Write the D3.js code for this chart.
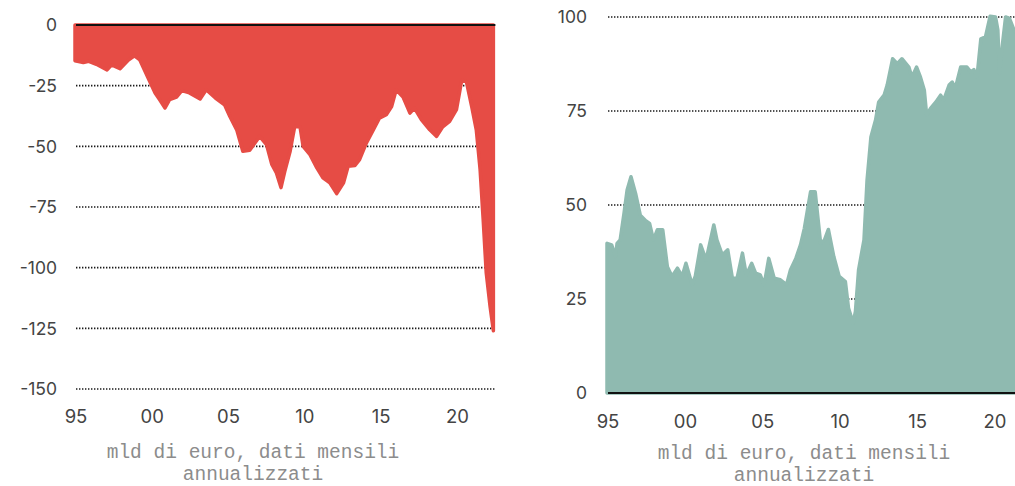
<!DOCTYPE html>
<html>
<head>
<meta charset="utf-8">
<script src="https://cdn.jsdelivr.net/npm/d3@7"></script>
<style>
  body { margin: 0; background: #fff; }
  svg { display: block; }
</style>
</head>
<body>
<svg id="chart"></svg>
<script>
// x axis ticks, shared by both panels
const xTicks = [1995, 2000, 2005, 2010, 2015, 2020];
const xTickLabels = ['95', '00', '05', '10', '15', '20'];
const leftYTicks = [0, -25, -50, -75, -100, -125, -150];
const rightYTicks = [0, 25, 50, 75, 100];
const unitLabel = ['mld di euro, dati mensili', 'annualizzati'];

// left panel (red)
const leftDates = [1995.0, 1995.55, 1995.9, 1996.4, 1997.1, 1997.4, 1997.95, 1998.5, 1998.9, 1999.25,
  1999.8, 2000.25, 2000.55, 2000.9, 2001.2, 2001.65, 2002.0, 2002.5, 2003.2, 2003.6,
  2004.2, 2004.8, 2005.15, 2005.6, 2006.0, 2006.45, 2007.1, 2007.55, 2007.9, 2008.2,
  2008.5, 2008.75, 2009.1, 2009.4, 2009.75, 2009.95, 2010.4, 2010.85, 2011.25, 2011.7,
  2012.15, 2012.6, 2012.9, 2013.35, 2013.65, 2014.1, 2014.55, 2014.95, 2015.4, 2015.75,
  2016.05, 2016.5, 2016.95, 2017.25, 2017.7, 2018.25, 2018.7, 2019.1, 2019.55, 2020.0,
  2020.35, 2020.65, 2021.0, 2021.3, 2021.55, 2021.75, 2021.95, 2022.2, 2022.42];
const leftValues = [-14.7, -15.5, -15, -16.2, -18.5, -16.4, -18, -14.4, -12.7, -14.4,
  -21.9, -28, -30.8, -34.2, -30.8, -29.7, -27, -28, -30.5, -26.7,
  -30.1, -32.9, -37.7, -43.2, -52, -51.6, -45.9, -49.3, -57.5, -61,
  -67, -60.3, -52, -41.8, -42, -50, -53.4, -58.9, -63, -65,
  -69.5, -65, -58.2, -57.9, -55.5, -48.6, -43.2, -38.4, -37, -33.6,
  -26.7, -29.7, -36.3, -34.2, -39, -43.2, -45.9, -42, -39.7, -34.9,
  -22.6, -23.3, -33.6, -43.2, -59.6, -80, -102, -115.8, -126];

// right panel (teal)
const rightDates = [1995.0, 1995.3, 1995.55, 1995.65, 1995.85, 1996.1, 1996.3, 1996.55, 1996.85, 1997.15,
  1997.5, 1997.75, 1998.0, 1998.25, 1998.6, 1998.9, 1999.2, 1999.55, 1999.85, 2000.1,
  2000.5, 2000.7, 2001.05, 2001.4, 2001.9, 2002.1, 2002.45, 2002.8, 2003.1, 2003.4,
  2003.75, 2004.0, 2004.35, 2004.6, 2004.9, 2005.15, 2005.45, 2005.8, 2006.2, 2006.6,
  2006.85, 2007.2, 2007.5, 2007.75, 2008.15, 2008.45, 2008.8, 2009.05, 2009.3, 2009.65,
  2010.0, 2010.4, 2010.6, 2010.9, 2011.05, 2011.25, 2011.6, 2011.8, 2012.05, 2012.35,
  2012.55, 2012.9, 2013.1, 2013.45, 2013.75, 2014.05, 2014.5, 2014.7, 2015.0, 2015.25,
  2015.5, 2015.65, 2015.9, 2016.25, 2016.55, 2016.75, 2017.1, 2017.3, 2017.5, 2017.85,
  2018.25, 2018.5, 2018.7, 2018.9, 2019.15, 2019.45, 2019.75, 2020.1, 2020.25, 2020.35,
  2020.55, 2020.75, 2021.0, 2021.3, 2021.6];
const rightValues = [39.8, 39.4, 36.3, 39.8, 40.7, 47.8, 54, 57.5, 53, 47.3,
  45.8, 45.1, 40.7, 43.4, 43.4, 33.6, 31, 33.2, 31, 34.5,
  28.8, 31, 39.4, 35.4, 44.7, 40.7, 36.7, 38.1, 30.5, 30.5,
  37.2, 31.4, 34.5, 31.9, 31.4, 28.8, 35.8, 30.5, 30.1, 28.8,
  32.7, 35.8, 39.4, 43.8, 53.5, 53.5, 39.8, 40.7, 43.5, 36.3,
  31, 29.6, 22.6, 18.6, 21.7, 32.7, 40.7, 56.6, 68.1, 72.6,
  77.4, 79.2, 81.9, 88.9, 87.6, 88.9, 86.7, 84, 86.7, 84,
  80.5, 73.9, 75.7, 77.4, 79.2, 77.9, 81.9, 82.7, 81, 86.7,
  86.7, 85.4, 86, 84, 94.2, 94.7, 100.2, 100, 96.5, 85,
  92.9, 100, 99.6, 96.5, 95];

const svg = d3.select('#chart').attr('width', 1015).attr('height', 486);

drawPanel({
  dates: leftDates, values: leftValues, yTicks: leftYTicks,
  xRange: [75, 494.6], yDomain: [-150, 0], yRange: [389, 25],
  color: '#e64c45', yLabelX: 57, xLabelY: 423, noteX: 253, noteY: 458
});

drawPanel({
  dates: rightDates, values: rightValues, yTicks: rightYTicks,
  xRange: [607, 1032.7], yDomain: [0, 100], yRange: [393, 17],
  color: '#8fbab0', yLabelX: 587, xLabelY: 428, noteX: 804, noteY: 459
});

function drawPanel(p) {
  const g = svg.append('g');
  const data = p.dates.map((d, i) => ({ date: d, value: p.values[i] }));

  const x = d3.scaleLinear().domain([1995, 2022.5]).range(p.xRange);
  const y = d3.scaleLinear().domain(p.yDomain).range(p.yRange);

  // dotted gridlines
  g.selectAll('line.grid')
    .data(p.yTicks.filter(t => t !== 0))
    .enter()
    .append('line')
    .attr('class', 'grid')
    .attr('x1', p.xRange[0] + 1)
    .attr('x2', p.xRange[1])
    .attr('y1', d => y(d))
    .attr('y2', d => y(d))
    .style('stroke', '#1a1a1a')
    .style('stroke-width', 1.6)
    .style('stroke-dasharray', '1.4,1.6');

  const area = d3.area()
    .x(d => x(d.date))
    .y0(y(0))
    .y1(d => y(d.value));

  g.append('path')
    .datum(data)
    .attr('d', area)
    .style('fill', p.color)
    .style('stroke', p.color)
    .style('stroke-width', 3.5)
    .style('stroke-linejoin', 'round');

  // zero line
  g.append('line')
    .attr('x1', p.xRange[0] + 1)
    .attr('x2', x(d3.max(p.dates)) + 2)
    .attr('y1', y(0))
    .attr('y2', y(0))
    .style('stroke', '#111')
    .style('stroke-width', 2);

  g.selectAll('text.ylab')
    .data(p.yTicks)
    .enter()
    .append('text')
    .attr('class', 'ylab')
    .attr('x', p.yLabelX)
    .attr('y', d => y(d))
    .attr('dy', '0.36em')
    .style('text-anchor', 'end')
    .style('font-family', 'Inter, sans-serif')
    .style('font-size', '17.5px')
    .style('fill', '#444')
    .text(d => d);

  g.selectAll('text.xlab')
    .data(xTicks)
    .enter()
    .append('text')
    .attr('class', 'xlab')
    .attr('x', d => x(d) + 1)
    .attr('y', p.xLabelY)
    .style('text-anchor', 'middle')
    .style('font-family', 'Inter, sans-serif')
    .style('font-size', '18.5px')
    .style('fill', '#444')
    .text((d, i) => xTickLabels[i]);

  g.selectAll('text.note')
    .data(unitLabel)
    .enter()
    .append('text')
    .attr('class', 'note')
    .attr('x', p.noteX)
    .attr('y', (d, i) => p.noteY + i * 22)
    .style('text-anchor', 'middle')
    .style('font-family', '"Liberation Mono", "DejaVu Sans Mono", monospace')
    .style('font-size', '19.5px')
    .style('fill', '#8c8c8c')
    .text(d => d);
}
</script>
</body>
</html>
